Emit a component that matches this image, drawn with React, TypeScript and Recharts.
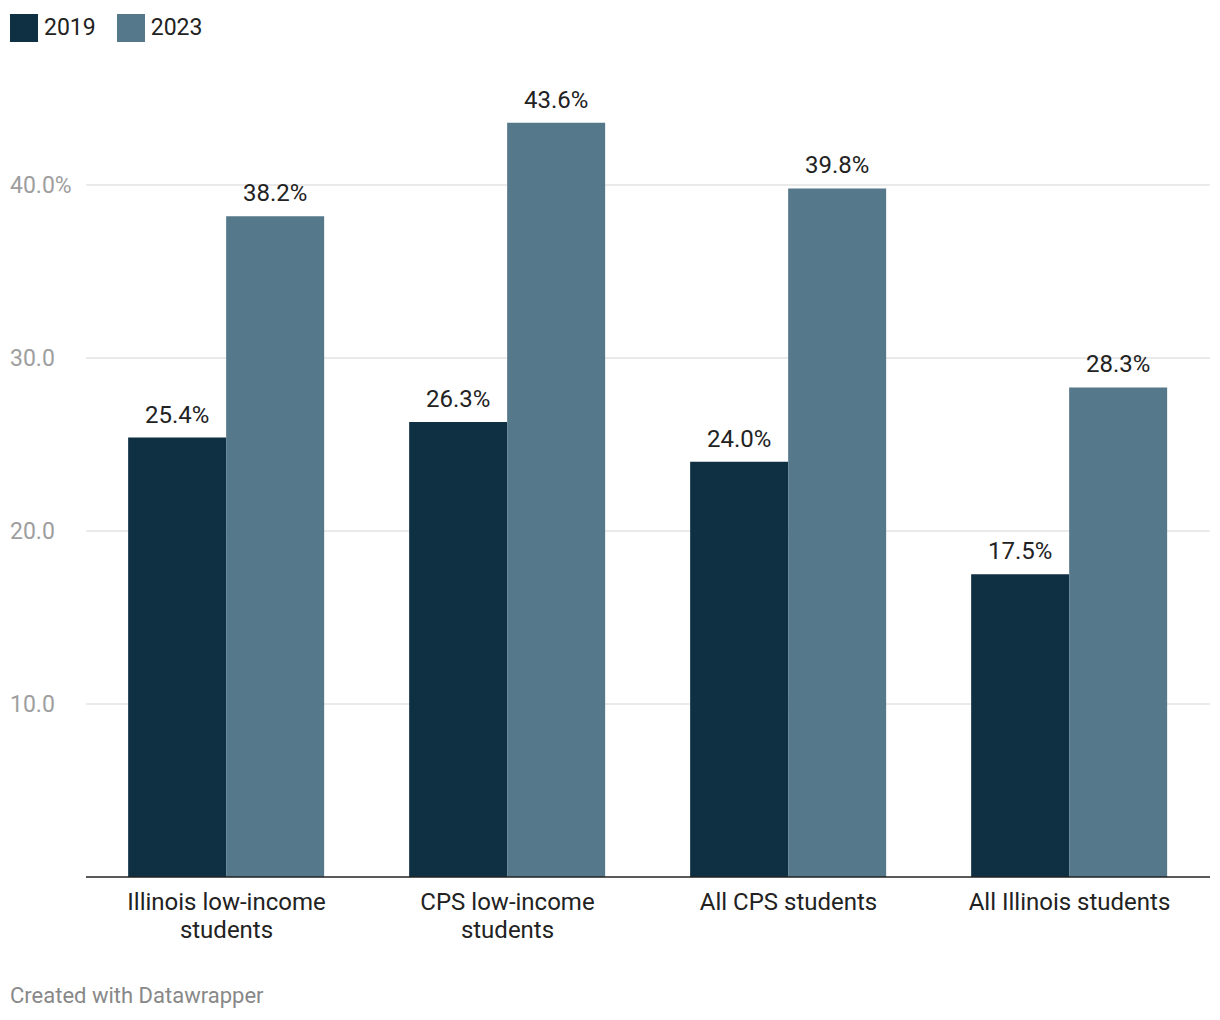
import React from "react";
import { BarChart, Bar, XAxis, YAxis, CartesianGrid, LabelList } from "recharts";

const categories = ["Illinois low-income\nstudents", "CPS low-income\nstudents", "All CPS students", "All Illinois students"];
const values2019 = [25.4, 26.3, 24.0, 17.5];
const values2023 = [38.2, 43.6, 39.8, 28.3];
const yTicks = [10, 20, 30, 40];

const DARK = "#0f3042";
const LIGHT = "#56788b";
const FONT = "Roboto, sans-serif";

const data = categories.map((c, i) => ({ name: c, y2019: values2019[i], y2023: values2023[i] }));

function YTick({ y, payload }: any) {
  const v = payload.value;
  const label = v === 40 ? `${v.toFixed(1)}%` : v.toFixed(1);
  return (
    <text x={10} y={y} dy={8} textAnchor="start" fill="#9e9e9e" fontSize={23} fontFamily={FONT}>
      {label}
    </text>
  );
}

function XTick({ x, y, payload }: any) {
  const lines = String(payload.value).split("\n");
  return (
    <text x={x} y={y} textAnchor="middle" fill="#222" fontSize={24} fontFamily={FONT}>
      {lines.map((l, i) => (
        <tspan key={i} x={x} dy={i === 0 ? 25 : 28}>
          {l}
        </tspan>
      ))}
    </text>
  );
}

const pct = (v: any) => `${Number(v).toFixed(1)}%`;

export default function App() {
  return (
    <div style={{ position: "absolute", left: 0, top: 0, width: 1220, height: 1020, background: "#fff", fontFamily: FONT }}>
      <div style={{ position: "absolute", left: 10, top: 14, display: "flex", alignItems: "center", fontSize: 23, color: "#222", lineHeight: "28px" }}>
        <span style={{ width: 28, height: 28, background: DARK, display: "inline-block" }} />
        <span style={{ marginLeft: 6 }}>2019</span>
        <span style={{ width: 28, height: 28, background: LIGHT, display: "inline-block", marginLeft: 21 }} />
        <span style={{ marginLeft: 6 }}>2023</span>
      </div>
      <div style={{ position: "absolute", left: 0, top: 0 }}>
        <BarChart
          width={1220}
          height={960}
          data={data}
          margin={{ top: 98.5, right: 10, left: 10, bottom: 0 }}
          barCategoryGap="15%"
          barGap={0}
        >
          <CartesianGrid vertical={false} horizontalValues={yTicks} stroke="#e3e3e3" strokeWidth={1.5} />
          <XAxis
            dataKey="name"
            height={83}
            tickLine={false}
            axisLine={{ stroke: "#222", strokeWidth: 1.5 }}
            tick={<XTick />}
            interval={0}
          />
          <YAxis
            width={76}
            domain={[0, 45]}
            ticks={yTicks}
            axisLine={false}
            tickLine={false}
            tick={<YTick />}
          />
          <Bar dataKey="y2019" fill={DARK} isAnimationActive={false}>
            <LabelList
              dataKey="y2019"
              position="top"
              offset={15}
              formatter={pct}
              style={{ fill: "#222", fontSize: 24, fontFamily: FONT }}
            />
          </Bar>
          <Bar dataKey="y2023" fill={LIGHT} isAnimationActive={false}>
            <LabelList
              dataKey="y2023"
              position="top"
              offset={15}
              formatter={pct}
              style={{ fill: "#222", fontSize: 24, fontFamily: FONT }}
            />
          </Bar>
        </BarChart>
      </div>
      <div style={{ position: "absolute", left: 10, top: 983, fontSize: 22, color: "#888" }}>Created with Datawrapper</div>
    </div>
  );
}
